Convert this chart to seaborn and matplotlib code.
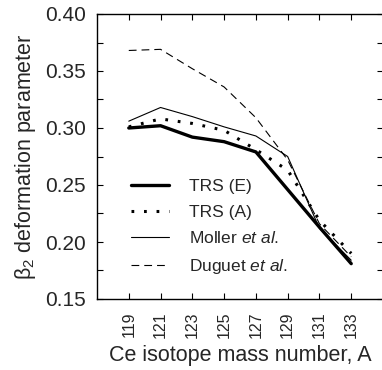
import matplotlib
matplotlib.use("Agg")
import matplotlib.pyplot as plt
import seaborn as sns
import pandas as pd
from matplotlib.ticker import MultipleLocator, FormatStrFormatter

mass = [119, 121, 123, 125, 127, 129, 131, 133]
trs_e = [0.300, 0.302, 0.292, 0.288, 0.279, 0.246, 0.213, 0.181]
trs_a = [0.301, 0.308, 0.304, 0.298, 0.281, 0.263, 0.219, 0.190]
moller = [0.306, 0.318, 0.310, 0.301, 0.293, 0.275, 0.212, 0.184]
duguet = [0.368, 0.369, 0.352, 0.336, 0.309, 0.272, 0.216, 0.187]
labels = ["TRS (E)", "TRS (A)", "Moller $\\it{et\\ al.}$", "Duguet $\\it{et\\ al.}$"]

sns.set_style("ticks")
plt.rcParams['font.family'] = ['Liberation Sans', 'DejaVu Sans']
plt.rcParams['mathtext.fontset'] = 'custom'
plt.rcParams['mathtext.rm'] = 'Liberation Sans'
plt.rcParams['mathtext.it'] = 'Liberation Sans:italic'
plt.rcParams['mathtext.bf'] = 'Liberation Sans:bold'

fig = plt.figure(figsize=(3.82, 3.70), dpi=100)
ax = fig.add_axes([97/382, 1 - 299/370, 286/382, 285/370])

series = [trs_e, trs_a, moller, duguet]
styles = [dict(lw=2.4, ls='-'), dict(lw=2.2, ls=(0, (0.9, 3.2))),
          dict(lw=0.8, ls='-'), dict(lw=0.8, ls=(0, (7, 4.5)))]
for vals, lab, st in zip(series, labels, styles):
    df = pd.DataFrame({"A": mass, "b": vals})
    sns.lineplot(data=df, x="A", y="b", ax=ax, color='black', label=lab,
                 linewidth=st['lw'], linestyle=st['ls'])

ax.set_xlim(117, 135)
ax.set_ylim(0.15, 0.40)
ax.set_xticks(mass)
ax.set_xticklabels([str(m) for m in mass], rotation=90)
ax.yaxis.set_major_locator(MultipleLocator(0.05))
ax.yaxis.set_minor_locator(MultipleLocator(0.025))
ax.yaxis.set_major_formatter(FormatStrFormatter('%.2f'))
ax.tick_params(axis='both', which='both', direction='in', top=True, right=True,
               length=4.5, width=0.8, color='black')
ax.tick_params(axis='y', which='major', labelsize=15, pad=8)
ax.tick_params(axis='x', labelsize=11.5, pad=9)
for s in ax.spines.values():
    s.set_linewidth(1.0)
    s.set_color('black')
ax.set_xlabel("Ce isotope mass number, A", fontsize=15.5, labelpad=5)
ax.set_ylabel("β$_2$ deformation parameter", fontsize=15.5, labelpad=5)

leg = ax.legend(loc='lower left', bbox_to_anchor=(0.065, 0.025), frameon=False, fontsize=12.5,
                handlelength=2.2, handletextpad=1.15, labelspacing=0.62)

fig.savefig("out.png", dpi=100)
